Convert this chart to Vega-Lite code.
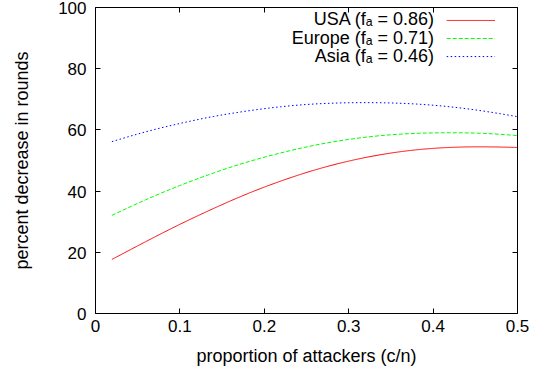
{
  "$schema": "https://vega.github.io/schema/vega-lite/v6.json",
  "width": 422,
  "height": 306,
  "autosize": {"type": "none"},
  "padding": {"left": 95, "top": 7, "right": 22, "bottom": 61},
  "background": "white",
  "config": {
    "view": {"stroke": "black", "strokeWidth": 1},
    "font": "Liberation Sans",
    "axis": {
      "domain": false,
      "grid": false,
      "tickColor": "black",
      "tickSize": -5,
      "labelFont": "Liberation Sans",
      "labelFontSize": 17,
      "labelColor": "black",
      "titleFont": "Liberation Sans",
      "titleFontSize": 18,
      "titleFontWeight": "normal",
      "titleColor": "black",
      "labelFlush": false
    },
    "text": {"font": "Liberation Sans", "fontSize": 18}
  },
  "datasets": {
    "curves": [
      {"series": "USA", "x": 0.02, "y": 17.5},
      {"series": "USA", "x": 0.06, "y": 23.3},
      {"series": "USA", "x": 0.10, "y": 28.9},
      {"series": "USA", "x": 0.14, "y": 34.1},
      {"series": "USA", "x": 0.18, "y": 38.9},
      {"series": "USA", "x": 0.22, "y": 43.1},
      {"series": "USA", "x": 0.26, "y": 46.7},
      {"series": "USA", "x": 0.30, "y": 49.6},
      {"series": "USA", "x": 0.34, "y": 51.8},
      {"series": "USA", "x": 0.38, "y": 53.3},
      {"series": "USA", "x": 0.42, "y": 54.1},
      {"series": "USA", "x": 0.46, "y": 54.3},
      {"series": "USA", "x": 0.50, "y": 54.1},
      {"series": "Europe", "x": 0.02, "y": 31.9},
      {"series": "Europe", "x": 0.06, "y": 37.0},
      {"series": "Europe", "x": 0.10, "y": 41.6},
      {"series": "Europe", "x": 0.14, "y": 45.7},
      {"series": "Europe", "x": 0.18, "y": 49.3},
      {"series": "Europe", "x": 0.22, "y": 52.3},
      {"series": "Europe", "x": 0.26, "y": 54.8},
      {"series": "Europe", "x": 0.30, "y": 56.7},
      {"series": "Europe", "x": 0.34, "y": 58.0},
      {"series": "Europe", "x": 0.38, "y": 58.7},
      {"series": "Europe", "x": 0.42, "y": 58.9},
      {"series": "Europe", "x": 0.46, "y": 58.7},
      {"series": "Europe", "x": 0.50, "y": 58.0},
      {"series": "Asia", "x": 0.02, "y": 56.0},
      {"series": "Asia", "x": 0.06, "y": 59.2},
      {"series": "Asia", "x": 0.10, "y": 61.9},
      {"series": "Asia", "x": 0.14, "y": 64.2},
      {"series": "Asia", "x": 0.18, "y": 66.0},
      {"series": "Asia", "x": 0.22, "y": 67.4},
      {"series": "Asia", "x": 0.26, "y": 68.3},
      {"series": "Asia", "x": 0.30, "y": 68.7},
      {"series": "Asia", "x": 0.34, "y": 68.7},
      {"series": "Asia", "x": 0.38, "y": 68.3},
      {"series": "Asia", "x": 0.42, "y": 67.4},
      {"series": "Asia", "x": 0.46, "y": 66.0},
      {"series": "Asia", "x": 0.50, "y": 64.2}
    ],
    "legend": [
      {"series": "USA", "label": "USA (fₐ = 0.86)", "tx": 0.4017, "sx1": 0.4167, "sx2": 0.474, "ly": 95.6},
      {"series": "Europe", "label": "Europe (fₐ = 0.71)", "tx": 0.4017, "sx1": 0.4167, "sx2": 0.474, "ly": 89.7},
      {"series": "Asia", "label": "Asia (fₐ = 0.46)", "tx": 0.4017, "sx1": 0.4167, "sx2": 0.474, "ly": 83.8}
    ]
  },
  "resolve": {"axis": {"x": "independent", "y": "independent"}},
  "layer": [
    {
      "data": {"name": "curves"},
      "mark": {"type": "line", "interpolate": "natural", "strokeWidth": 1, "clip": true},
      "encoding": {
        "x": {
          "field": "x", "type": "quantitative",
          "scale": {"domain": [0, 0.5], "nice": false, "zero": false},
          "axis": {"orient": "bottom", "values": [0, 0.1, 0.2, 0.3, 0.4, 0.5], "format": "~g", "title": "proportion of attackers (c/n)", "labelPadding": 10, "titlePadding": 13}
        },
        "y": {
          "field": "y", "type": "quantitative",
          "scale": {"domain": [0, 100], "nice": false},
          "axis": {"orient": "left", "values": [0, 20, 40, 60, 80, 100], "title": "percent decrease in rounds", "labelPadding": 14, "titlePadding": 26, "labelOffset": 1.5}
        },
        "color": {
          "field": "series", "type": "nominal",
          "scale": {"domain": ["USA", "Europe", "Asia"], "range": ["#ff0000", "#00ff00", "#0000ff"]},
          "legend": null
        },
        "strokeDash": {
          "field": "series", "type": "nominal",
          "scale": {"domain": ["USA", "Europe", "Asia"], "range": [[1, 0], [4, 2], [1.5, 2.5]]},
          "legend": null
        }
      }
    },
    {
      "data": {"name": "legend"},
      "mark": {"type": "rule", "strokeWidth": 1},
      "encoding": {
        "x": {"field": "sx1", "type": "quantitative", "axis": null},
        "x2": {"field": "sx2"},
        "y": {"field": "ly", "type": "quantitative", "axis": null},
        "color": {"field": "series", "type": "nominal", "legend": null},
        "strokeDash": {"field": "series", "type": "nominal", "legend": null}
      }
    },
    {
      "data": {"name": "legend"},
      "mark": {"type": "text", "align": "right", "baseline": "middle", "color": "black"},
      "encoding": {
        "x": {"field": "tx", "type": "quantitative", "axis": null},
        "y": {"field": "ly", "type": "quantitative", "axis": null},
        "text": {"field": "label"}
      }
    },
    {
      "data": {"name": "curves"},
      "mark": {"type": "point", "opacity": 0},
      "encoding": {
        "x": {"field": "x", "type": "quantitative", "axis": {"orient": "top", "values": [0, 0.1, 0.2, 0.3, 0.4, 0.5], "labels": false, "title": null}},
        "y": {"field": "y", "type": "quantitative", "axis": {"orient": "right", "values": [0, 20, 40, 60, 80, 100], "labels": false, "title": null}}
      }
    }
  ]
}
